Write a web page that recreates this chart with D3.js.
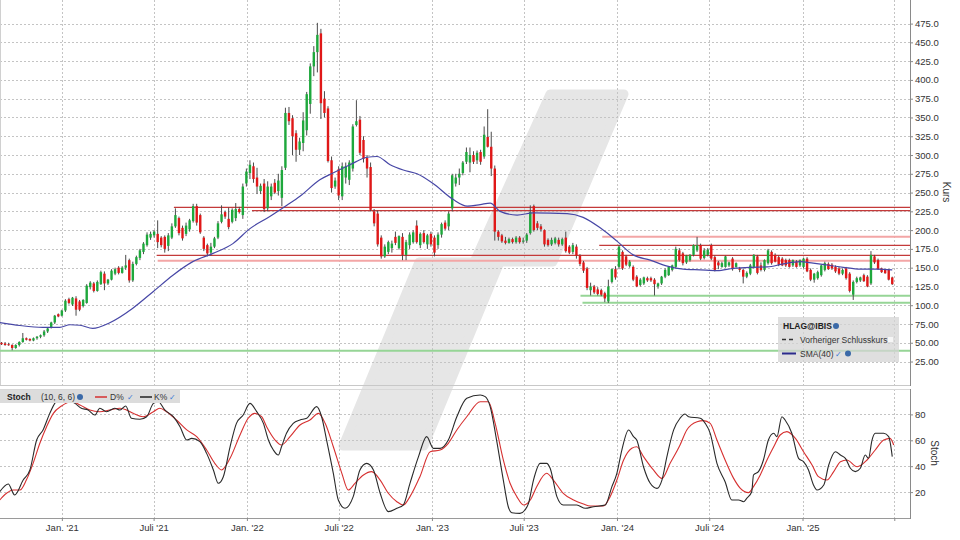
<!DOCTYPE html>
<html><head><meta charset="utf-8">
<script src="https://cdn.jsdelivr.net/npm/d3@7"></script>
<style>
body{margin:0;background:#fff;}
svg{display:block;font-family:"Liberation Sans",Arial,sans-serif;}
</style></head><body>
<svg id="c" width="960" height="540"></svg>
<script>
// ---------- DATA ----------
const firstWeek = "2020-09-04";
// weekly candles [open, high, low, close]
const candles = [
[50,51,47,48],[49,51,46,47],[48,50,46,47],[47,48,40,43],[43,48,42,47],[47,52,45,51],[51,63,50,56],[56,57,53,54],[55,56,52,53],[53,57,52,56],
[56,59,54,58],[58,61,56,60],[60,67,58,65],[65,70,63,69],[70,78,69,77],[77,87,75,86],[88,89,84,85],[86,94,85,93],[93,108,91,106],[108,110,101,103],
[101,111,99,110],[109,112,86,94],[105,107,92,94],[99,108,97,107],[103,128,102,126],[124,132,121,130],[129,131,117,119],[119,133,118,131],[128,146,127,144],[142,145,120,129],
[129,135,127,134],[134,148,133,146],[142,150,140,148],[150,152,141,143],[143,152,142,150],[150,167,147,153],[160,162,130,133],[133,158,131,155],[155,166,153,164],[163,175,160,173],
[171,184,168,182],[180,197,178,194],[190,198,187,195],[193,200,190,198],[195,213,176,184],[190,192,177,180],[191,193,170,175],[179,196,172,193],[190,209,188,205],[205,229,203,220],
[216,218,193,196],[203,206,186,189],[195,210,192,206],[201,215,198,213],[212,235,210,232],[232,235,206,210],[220,222,195,197],[190,192,172,175],[180,182,165,169],[170,183,166,178],
[178,191,176,189],[190,212,188,209],[211,233,209,221],[224,226,215,218],[215,230,201,204],[211,229,209,227],[216,236,212,228],[228,231,222,224],[220,262,215,258],[262,282,258,278],
[276,293,268,287],[285,290,263,268],[270,283,248,258],[252,262,248,259],[262,268,224,228],[229,265,225,258],[245,262,240,258],[263,268,248,250],[252,275,246,266],[243,285,232,280],
[283,363,280,356],[356,364,340,345],[349,353,300,325],[329,333,291,307],[307,323,300,318],[316,357,305,346],[333,384,326,381],[368,422,355,418],[418,445,405,437],[437,476,410,460],
[462,468,348,369],[375,385,350,356],[362,365,290,292],[293,298,250,256],[258,270,255,266],[281,285,240,246],[245,290,240,285],[270,290,262,285],[267,293,260,290],[282,341,278,338],
[340,373,338,345],[347,352,300,303],[320,325,290,295],[296,300,270,282],[284,290,225,227],[225,228,205,209],[222,226,178,181],[190,193,162,165],[165,181,163,178],[171,186,168,184],
[176,186,170,182],[191,198,180,183],[176,193,174,192],[191,196,160,167],[167,187,160,184],[180,197,175,194],[184,200,182,197],[206,213,182,184],[180,197,176,195],[196,200,182,184],
[181,195,175,193],[195,198,178,181],[190,193,165,170],[180,197,175,194],[194,210,190,208],[210,213,200,202],[205,225,200,222],[229,275,225,273],[262,275,258,270],[270,282,260,275],
[276,292,273,290],[291,310,288,304],[290,310,277,300],[300,305,288,291],[293,306,288,303],[304,307,287,291],[298,338,295,327],[324,361,310,311],[311,331,272,282],[282,286,186,198],
[198,200,186,191],[193,195,183,185],[186,191,181,183],[183,190,182,188],[188,190,182,184],[184,192,182,190],[190,192,182,184],[185,190,182,186],[186,196,183,194],[196,233,194,224],
[232,234,198,200],[209,212,200,203],[205,208,198,201],[200,201,178,181],[187,189,178,180],[181,190,179,187],[183,191,181,189],[187,190,178,181],[181,190,179,188],[190,198,170,172],
[178,180,168,170],[171,183,168,180],[178,181,162,166],[166,168,152,155],[157,159,143,146],[149,151,120,123],[120,130,113,125],[125,127,115,117],[121,124,113,115],[120,122,112,114],
[116,118,104,109],[105,134,103,125],[131,149,129,148],[148,152,134,137],[151,180,148,178],[171,173,147,149],[165,167,152,154],[152,160,150,158],[151,153,132,134],[138,140,124,125],
[127,136,125,134],[129,138,127,137],[136,138,131,133],[136,138,131,133],[134,136,113,128],[125,130,122,129],[129,139,127,138],[138,149,136,147],[140,152,139,151],[147,154,145,153],
[151,178,149,175],[173,176,158,160],[169,171,153,156],[157,167,155,166],[160,168,158,167],[167,181,165,180],[173,191,171,180],[180,182,160,162],[163,176,161,173],[167,176,165,174],
[180,182,160,162],[164,166,145,147],[157,159,148,153],[151,158,150,156],[151,166,150,165],[153,158,151,157],[162,164,146,148],[151,157,150,156],[149,151,144,147],[147,149,129,138],
[138,145,136,143],[142,155,140,153],[151,168,149,167],[165,167,141,143],[153,157,145,147],[147,161,145,160],[156,175,154,173],[171,173,154,156],[167,169,157,158],[164,166,152,154],
[162,164,152,153],[160,162,151,153],[160,162,150,151],[153,161,151,160],[158,160,150,151],[153,161,151,160],[151,163,149,162],[162,164,144,145],[147,149,132,134],[134,143,130,142],
[136,146,134,144],[140,154,138,153],[147,158,145,156],[155,157,147,148],[154,156,147,149],[151,153,143,145],[149,151,140,142],[142,149,140,147],[149,151,134,136],[142,144,117,119],
[114,133,107,131],[131,138,129,136],[133,138,131,137],[140,142,131,132],[138,140,124,125],[129,172,127,167],[165,167,155,157],[160,162,147,148],[149,150,143,144],[147,148,142,142.5],
[147,148,133,134],[137,138,127,128]
];
// SMA(40): [week index, value]
const sma40 = [[-0.5,77],[5.2,73],[11.6,70.5],[16.4,70.5],[19.3,74],[22.1,73.3],[25.7,69.2],[30.5,76.7],[37,96],[42.7,118],[48.3,140],[53.9,158],[59.6,169],[65.2,182],[70,202],[75.6,218],[80.4,233],[84.1,245],[89.7,267],[93.4,276],[98.2,287],[103,297],[105.8,298],[109.5,287],[113.2,280],[117.1,275],[121.6,262],[127.2,241],[131.2,232],[134.9,234],[137.7,236],[140.5,225],[145.3,220],[149.8,223],[159.4,222],[163.9,217],[168.7,203],[173.5,185],[178,167],[182.8,160],[187.6,152],[192.1,148],[196.9,147],[201.7,146],[206.2,149],[211,150.5],[215.8,151],[220.3,155],[225.1,158],[228.7,156],[232.7,153.5],[237.2,150.5],[242,148],[246.8,148],[251,147]];
// Stochastic (10,6,6): [week index, value]
const stochK = [[-0.5,20.3],[1.9,26.3],[3.7,17.8],[6.1,29.3],[8,37.1],[9.9,60.2],[11.7,68],[13.6,80.8],[15,88.5],[16.4,92.4],[17.8,91.1],[19.3,90.6],[20.7,88.5],[22.5,84.7],[24.4,83.4],[26.3,79.5],[27.7,84.7],[29.6,82.1],[31.9,84.7],[33.4,83.4],[35,86.5],[36.6,77],[39,76.2],[40.9,78.2],[42.8,88.5],[44.2,89.8],[46,83.4],[48.4,78.2],[50.3,70.5],[52.2,60.2],[53.6,61.5],[55.9,59],[57.8,49.9],[59.7,37.1],[61.1,26.8],[62.5,31.9],[64.4,55],[66.2,73.1],[68.1,79.5],[70,88.5],[71.9,82.1],[73.8,73.1],[75.2,60.2],[76.6,52.5],[78,48.6],[78.9,55],[80.3,65.4],[82.2,73.1],[84.1,75.7],[86,77],[88.8,86],[90.2,78.2],[91.6,60.2],[93.5,34.5],[94.9,13.9],[96.8,7.5],[99.1,16.5],[101,37.1],[102.9,42.2],[104.8,37.1],[106.7,19.1],[109,4.9],[111.4,7.5],[113.2,10],[115.1,26.8],[117.5,47.4],[119.8,62.8],[121.7,53.8],[123.6,53.8],[125.9,60.2],[128.3,78.2],[131.1,92.4],[134.9,95],[136.3,93.7],[137.7,86],[139.5,60.2],[141.4,29.3],[142.8,8.7],[143.8,4.1],[146.1,3.6],[147.5,6.2],[148.5,11.3],[149.9,29.3],[151.8,42.2],[153.6,42.2],[154.6,38.4],[156.5,16.5],[158.3,10],[160.2,10],[162.1,10],[164.5,7.5],[166.8,8.7],[170.1,10],[172,24.2],[173.4,34.5],[174.8,52.5],[176.7,68],[178.1,62.8],[179,60.2],[180.9,39.6],[182.8,26.8],[184.7,22.9],[186.1,29.3],[187.5,47.4],[189.4,68],[191.2,77],[192.6,80.3],[193.6,78.2],[196.9,77],[198.3,73.1],[199.7,65.4],[201.6,42.2],[203.9,28],[205.8,13.9],[207.7,13.9],[209.1,12.6],[210,15.2],[211.4,20.3],[211.9,33.2],[213.3,35.8],[214.7,44.8],[216.1,60.2],[217.6,65.4],[218.5,62.8],[219.9,78.2],[220.8,75.7],[222.7,65.4],[224.6,46.1],[226,43.5],[227.4,37.1],[228.8,25.5],[229.8,21.6],[231.7,25.5],[233.1,40.9],[235,51.2],[236.4,48.6],[237.8,46.1],[239.2,38.4],[240.6,35.8],[242,38.4],[243.4,48.6],[244.3,46.1],[245.3,60.2],[246.2,65.4],[248.6,65.4],[250,62.8],[251,47.4]];
const stochD = [[-0.5,13.9],[1.4,19.1],[3.3,21.6],[5.2,21.6],[7,29.3],[8.9,42.2],[10.8,57.7],[12.7,70.5],[14.6,80.8],[16.9,86.5],[19.7,89.8],[22.1,87.3],[24.9,83.4],[27.7,82.1],[30.5,83.4],[33.4,84.7],[35.2,83.4],[37.1,80.8],[39.9,78.2],[42.8,82.1],[44.6,84.7],[46.5,82.1],[49.3,75.7],[52.2,68],[55,62.8],[57.8,52.5],[60.1,42.2],[62,37.1],[64.4,46.1],[67.2,64.1],[69.5,77],[71.4,80.8],[73.3,78.2],[74.7,70.5],[77.1,60.2],[78.9,56.4],[81.3,62.8],[84.1,71.8],[86.9,75.7],[89.3,80.8],[91.2,73.1],[93.5,55],[95.9,34.5],[97.7,21.6],[99.6,26.8],[102,33.2],[104.3,35.8],[106.7,29.3],[109,19.1],[111.4,12.6],[113.2,10],[115.1,16.5],[117.9,31.9],[120.8,51.2],[123.6,52.5],[125.9,57.7],[128.3,68],[131.1,78.2],[134.9,89.8],[137.2,89.8],[139.1,73.1],[141.4,44.8],[143.3,26.8],[145.2,16.5],[147.1,10],[149,13.9],[150.8,24.2],[153.6,34.5],[155.5,29.3],[158.3,19.1],[161.2,13.9],[164,10.8],[165.9,9.3],[169.6,9.3],[171.5,16.5],[173.4,29.3],[175.3,44.8],[177.6,53.8],[179,55],[180.9,47.4],[183.7,37.1],[186.1,30.6],[188.4,42.2],[191.2,56.4],[193.1,68],[196,74.4],[197.8,75.2],[199.7,73.1],[201.6,60.2],[203.9,44.8],[206.3,30.6],[208.2,22.9],[210.5,19.6],[211.9,24.2],[213.8,33.2],[215.7,44.8],[217.6,55],[219.4,64.1],[221.3,66.7],[223.7,61.5],[226,51.2],[228.4,40.9],[230.2,31.9],[232.6,29.3],[234.5,35.8],[236.4,43.5],[238.2,44.8],[241.1,39.6],[243.9,44.8],[246.2,52.5],[248.6,60.2],[250.4,61.5],[251.4,56.4]];
// horizontal support / resistance lines
const levelValues = [230.4, 225.9, 191.2, 179.8, 166.4, 159.3, 112.7, 103.3, 39.4];
const levelStarts = ["2021-08-10","2022-01-11","2023-12-03","2023-11-27","2021-07-07","2021-07-09","2023-10-21","2023-10-25","2020-09-01"];
const levelKinds  = ["dark","dark","light","dark","dark","light","green","green","green"];
const priceTicks = [25,50,75,100,125,150,175,200,225,250,275,300,325,350,375,400,425,450,475];
const priceTickLabels = ["25.00","50.00","75.00","100.0","125.0","150.0","175.0","200.0","225.0","250.0","275.0","300.0","325.0","350.0","375.0","400.0","425.0","450.0","475.0"];
const stochTicks = [20,40,60,80];
const timeTicks = ["2021-01-01","2021-07-01","2022-01-01","2022-07-01","2023-01-01","2023-07-01","2024-01-01","2024-07-01","2025-01-01","2025-07-01"];
const timeTickLabels = ["Jan. '21","Juli '21","Jan. '22","Juli '22","Jan. '23","Juli '23","Jan. '24","Juli '24","Jan. '25",""];

// ---------- LAYOUT ----------
const svg = d3.select("#c");
const plotR = 910, mainT = 0, mainB = 385, stT = 389, stB = 518;
const parse = d3.utcParse("%Y-%m-%d");
const t0 = parse(firstWeek);
const weekDate = w => new Date(t0.getTime() + w * 7 * 86400000);

const x = d3.scaleUtc().domain([parse("2020-09-01"), parse("2025-08-01")]).range([0, plotR]);
const y = d3.scaleLinear().domain([0, 475]).range([380.3, 23.6]);
const ys = d3.scaleLinear().domain([0, 100]).range([stB, 388.5]);

const defs = svg.append("defs");
defs.append("clipPath").attr("id","cm").append("rect").attr("x",0).attr("y",mainT).attr("width",plotR).attr("height",mainB-mainT);
defs.append("clipPath").attr("id","cs").append("rect").attr("x",0).attr("y",stT).attr("width",plotR).attr("height",stB-stT);

// watermark logo
svg.append("path")
  .attr("d","M550,94 L624,94 L553,262 L500,262 L424,446 L343,446 L419,262 L474,262 Z")
  .attr("fill","#e6e6e6").attr("stroke","#e6e6e6").attr("stroke-width",9).attr("stroke-linejoin","round");

// grids
const gm = svg.append("g");
gm.selectAll("line.h").data(priceTicks).join("line")
  .attr("x1",0).attr("x2",plotR).attr("y1",d=>Math.round(y(d))+0.5).attr("y2",d=>Math.round(y(d))+0.5)
  .attr("stroke","#c4c4c4").attr("stroke-dasharray","2,2");
gm.selectAll("line.hs").data(stochTicks).join("line")
  .attr("x1",0).attr("x2",plotR).attr("y1",d=>Math.round(ys(d))+0.5).attr("y2",d=>Math.round(ys(d))+0.5)
  .attr("stroke","#c4c4c4").attr("stroke-dasharray","2,2");
timeTicks.forEach(t=>{
  const xx = Math.round(x(parse(t)))+0.5;
  gm.append("line").attr("x1",xx).attr("x2",xx).attr("y1",mainT).attr("y2",mainB).attr("stroke","#c4c4c4").attr("stroke-dasharray","2,2");
  gm.append("line").attr("x1",xx).attr("x2",xx).attr("y1",stT).attr("y2",stB).attr("stroke","#c4c4c4").attr("stroke-dasharray","2,2");
});

// panel frames
svg.append("line").attr("x1",0.5).attr("x2",0.5).attr("y1",0).attr("y2",mainB).attr("stroke","#d0d0d0");
svg.append("line").attr("x1",0).attr("x2",plotR).attr("y1",mainB+0.5).attr("y2",mainB+0.5).attr("stroke","#c8c8c8");
svg.append("line").attr("x1",0).attr("x2",plotR).attr("y1",stT+0.5).attr("y2",stT+0.5).attr("stroke","#d8d8d8");
svg.append("line").attr("x1",0).attr("x2",plotR).attr("y1",stB+0.5).attr("y2",stB+0.5).attr("stroke","#9a9a9a");
svg.append("line").attr("x1",plotR+0.5).attr("x2",plotR+0.5).attr("y1",0).attr("y2",mainB+1).attr("stroke","#8a8a8a");
svg.append("line").attr("x1",plotR+0.5).attr("x2",plotR+0.5).attr("y1",stT).attr("y2",stB+1).attr("stroke","#8a8a8a");

// main plot
const main = svg.append("g").attr("clip-path","url(#cm)");
const levelColor = {dark:"#c43a3a", light:"#f3a6a6", green:"#96d596"};
const levelWidth = {dark:1.2, light:2, green:2};
levelValues.forEach((v,i)=>{
  main.append("line").attr("x1",x(parse(levelStarts[i]))).attr("x2",plotR)
    .attr("y1",y(v)).attr("y2",y(v))
    .attr("stroke",levelColor[levelKinds[i]]).attr("stroke-width",levelWidth[levelKinds[i]]);
});

const cg = main.append("g");
candles.forEach((c,i)=>{
  const [o,h,l,cl] = c;
  const cx = x(weekDate(i));
  const up = cl >= o;
  cg.append("line").attr("x1",cx).attr("x2",cx).attr("y1",y(h)).attr("y2",y(l)).attr("stroke","#4a4a4a").attr("stroke-width",1);
  const top = y(Math.max(o,cl)), bot = y(Math.min(o,cl));
  cg.append("rect").attr("x",cx-1.2).attr("width",2.4).attr("y",top).attr("height",Math.max(1,bot-top))
    .attr("fill", up ? "#1ea83c" : "#e01818");
});

main.append("path").datum(sma40)
  .attr("d", d3.line().x(d=>x(weekDate(d[0]))).y(d=>y(d[1])).curve(d3.curveMonotoneX))
  .attr("fill","none").attr("stroke","#4747a6").attr("stroke-width",1.2);

// stochastic
const st = svg.append("g").attr("clip-path","url(#cs)");
const sl = d3.line().x(d=>x(weekDate(d[0]))).y(d=>ys(d[1])).curve(d3.curveMonotoneX);
st.append("path").datum(stochD).attr("d",sl).attr("fill","none").attr("stroke","#d63030").attr("stroke-width",1.1);
st.append("path").datum(stochK).attr("d",sl).attr("fill","none").attr("stroke","#2a2a2a").attr("stroke-width",1.1);

// axes
const ax = svg.append("g").attr("transform",`translate(${plotR},0)`)
  .call(d3.axisRight(y).tickValues(priceTicks).tickFormat((d,i)=>priceTickLabels[i]).tickSize(3).tickPadding(2));
ax.select(".domain").remove();
const axs = svg.append("g").attr("transform",`translate(${plotR},0)`)
  .call(d3.axisRight(ys).tickValues(stochTicks).tickSize(3).tickPadding(2));
axs.select(".domain").remove();
const axx = svg.append("g").attr("transform",`translate(0,${stB})`)
  .call(d3.axisBottom(x).tickValues(timeTicks.map(parse)).tickFormat((d,i)=>timeTickLabels[i]).tickSize(3).tickPadding(3));
axx.select(".domain").remove();
[ax,axs,axx].forEach(a=>{
  a.selectAll("text").attr("fill","#333").style("font-size","9.5px").style("font-family","'Liberation Sans',Arial,sans-serif");
  a.selectAll("line").attr("stroke","#8a8a8a");
});

svg.append("text").attr("transform","translate(943,192) rotate(90)").attr("text-anchor","middle")
  .attr("fill","#333").style("font-size","10px").text("Kurs");
svg.append("text").attr("transform","translate(931,453) rotate(90)").attr("text-anchor","middle")
  .attr("fill","#333").style("font-size","10px").text("Stoch");

// main legend
const lg = svg.append("g");
lg.append("rect").attr("x",778).attr("y",317).attr("width",121).attr("height",45).attr("fill","#d4d4d4").attr("opacity",0.75);
lg.append("text").attr("x",783).attr("y",329).style("font-size","8.5px").style("font-weight","bold").attr("fill","#222").text("HLAG@IBIS");
lg.append("circle").attr("cx",836).attr("cy",326).attr("r",3).attr("fill","#3b6aa8");
lg.append("line").attr("x1",782).attr("x2",796).attr("y1",339.5).attr("y2",339.5).attr("stroke","#333").attr("stroke-width",1.3).attr("stroke-dasharray","4,3");
lg.append("text").attr("x",800).attr("y",342.5).style("font-size","8.5px").attr("fill","#333").text("Vorheriger Schlusskurs");
lg.append("rect").attr("x",888).attr("y",337).attr("width",5).attr("height",5).attr("fill","#f6f6f6");
lg.append("line").attr("x1",782).attr("x2",796).attr("y1",353.5).attr("y2",353.5).attr("stroke","#2b2b8c").attr("stroke-width",2);
lg.append("text").attr("x",800).attr("y",356.5).style("font-size","8.5px").attr("fill","#333").text("SMA(40)");
lg.append("text").attr("x",835).attr("y",356.5).style("font-size","8px").attr("fill","#3a7bd5").text("✓");
lg.append("circle").attr("cx",848).attr("cy",353.5).attr("r",3).attr("fill","#3b6aa8");

// stoch legend
const sg = svg.append("g");
sg.append("rect").attr("x",0).attr("y",390).attr("width",180).attr("height",13).attr("fill","#dcdcdc");
sg.append("text").attr("x",7).attr("y",400).style("font-size","8.5px").style("font-weight","bold").attr("fill","#222").text("Stoch");
sg.append("text").attr("x",41).attr("y",400).style("font-size","8.5px").attr("fill","#333").text("(10, 6, 6)");
sg.append("circle").attr("cx",80).attr("cy",397).attr("r",3).attr("fill","#3b6aa8");
sg.append("line").attr("x1",95).attr("x2",107).attr("y1",397).attr("y2",397).attr("stroke","#d63030").attr("stroke-width",1.5);
sg.append("text").attr("x",110).attr("y",400).style("font-size","8.5px").attr("fill","#333").text("D%");
sg.append("text").attr("x",127).attr("y",400).style("font-size","8px").attr("fill","#3a7bd5").text("✓");
sg.append("line").attr("x1",140).attr("x2",152).attr("y1",397).attr("y2",397).attr("stroke","#222").attr("stroke-width",1.5);
sg.append("text").attr("x",154).attr("y",400).style("font-size","8.5px").attr("fill","#333").text("K%");
sg.append("text").attr("x",169).attr("y",400).style("font-size","8px").attr("fill","#3a7bd5").text("✓");
</script>
</body></html>
